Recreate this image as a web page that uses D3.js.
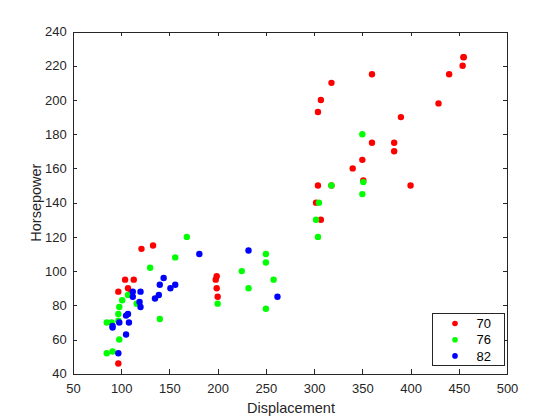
<!DOCTYPE html>
<html>
<head>
<meta charset="utf-8">
<script src="https://cdn.jsdelivr.net/npm/d3@7"></script>
<style>
  html, body { margin: 0; padding: 0; background: #fff; }
  svg { display: block; font-family: "Liberation Sans", Arial, Helvetica, sans-serif; }
</style>
</head>
<body>
<svg id="chart" width="560" height="420"></svg>
<script>
// ---- data (Displacement, Horsepower) grouped by model year ----
const groups = ["70", "76", "82"];
const groupColors = ["#ff0000", "#00ff00", "#0000ff"];

const disp70 = [307,350,318,304,302,429,454,440,455,390,133,351,383,360,383,340,400,455,113,198,199,200,97,97,110,107,104,121,199,360,307,318,304];
const hp70   = [130,165,150,150,140,198,220,215,225,190,115,153,175,175,170,160,150,225, 95, 95, 97, 85,88,46, 87, 90, 95,113, 90,215,200,210,193];

const disp76 = [250,250,318,304,351,225,200,232,250,258,85,98,91,90,85,97,97,98,101,116,107,140,130,156,168,350,350,302,305];
const hp76   = [110,105,150,120,152,100, 81, 90, 78, 95,52,60,53,70,70,71,75,79, 83, 81, 86, 72,102,108,120,180,145,130,140];

const disp82 = [97,91,91,98,108,105,105,107,112,112,120,119,120,135,139,140,144,151,156,181,232,262];
const hp82   = [52,67,68,70, 70, 63, 74, 75, 85, 88, 88, 82, 79, 84, 86, 92, 96, 90, 92,110,112, 85];

const xTicks = [50,100,150,200,250,300,350,400,450,500];
const yTicks = [40,60,80,100,120,140,160,180,200,220,240];
const xLabel = "Displacement";
const yLabel = "Horsepower";

const series = [
  {name: groups[0], color: groupColors[0], x: disp70, y: hp70},
  {name: groups[1], color: groupColors[1], x: disp76, y: hp76},
  {name: groups[2], color: groupColors[2], x: disp82, y: hp82}
];

// ---- layout ----
const L = 73, R = 507, T = 31.5, B = 373.8;
const axisColor = "#262626";
const svg = d3.select("#chart");
svg.append("rect").attr("width", 560).attr("height", 420).attr("fill", "#fff");

const x = d3.scaleLinear().domain([50, 500]).range([L, R]);
const y = d3.scaleLinear().domain([40, 240]).range([B, T]);

const tickLen = 4.3;

function styleAxis(g) {
  g.selectAll("path.domain").attr("stroke", axisColor).attr("stroke-width", 1).attr("shape-rendering", "crispEdges");
  g.selectAll(".tick line").attr("stroke", axisColor).attr("stroke-width", 1).attr("shape-rendering", "crispEdges");
  g.selectAll(".tick text").attr("fill", axisColor).attr("font-size", 13).attr("font-family", "Liberation Sans, Arial, sans-serif");
}

// bottom
svg.append("g").attr("transform", `translate(0,${B})`)
  .call(d3.axisBottom(x).tickValues(xTicks).tickSizeInner(-tickLen).tickSizeOuter(0).tickPadding(9.5).tickFormat(d3.format("d")))
  .call(styleAxis);
// top
svg.append("g").attr("transform", `translate(0,${T})`)
  .call(d3.axisTop(x).tickValues(xTicks).tickSizeInner(-tickLen).tickSizeOuter(0).tickFormat(""))
  .call(styleAxis);
// left
svg.append("g").attr("transform", `translate(${L},0)`)
  .call(d3.axisLeft(y).tickValues(yTicks).tickSizeInner(-tickLen).tickSizeOuter(0).tickPadding(6.3).tickFormat(d3.format("d")))
  .call(styleAxis);
// right
svg.append("g").attr("transform", `translate(${R},0)`)
  .call(d3.axisRight(y).tickValues(yTicks).tickSizeInner(-tickLen).tickSizeOuter(0).tickFormat(""))
  .call(styleAxis);

// ---- points ----
const r = 3.2;
series.forEach(s => {
  svg.append("g").selectAll("circle")
    .data(s.x.map((d, i) => [d, s.y[i]]))
    .join("circle")
    .attr("cx", d => x(d[0]))
    .attr("cy", d => y(d[1]))
    .attr("r", r)
    .attr("fill", s.color);
});

// ---- axis labels ----
svg.append("text")
  .attr("x", (L + R) / 2 + 1).attr("y", 413.3)
  .attr("text-anchor", "middle")
  .attr("font-size", 14.5).attr("fill", axisColor)
  .text(xLabel);
svg.append("text")
  .attr("transform", `translate(41.3,${(T + B) / 2}) rotate(-90)`)
  .attr("text-anchor", "middle")
  .attr("font-size", 14.5).attr("fill", axisColor)
  .text(yLabel);

// ---- legend ----
const lg = svg.append("g");
lg.append("rect")
  .attr("x", 432.5).attr("y", 313.5).attr("width", 72).attr("height", 52)
  .attr("fill", "#fff").attr("stroke", axisColor).attr("stroke-width", 1)
  .attr("shape-rendering", "crispEdges");
series.forEach((s, i) => {
  const cy = 323.5 + i * 16.2;
  lg.append("circle").attr("cx", 455).attr("cy", cy).attr("r", 2.8).attr("fill", s.color);
  lg.append("text").attr("x", 491).attr("y", cy + 4.6)
    .attr("text-anchor", "end").attr("font-size", 13).attr("fill", "#000")
    .text(s.name);
});
</script>
</body>
</html>
